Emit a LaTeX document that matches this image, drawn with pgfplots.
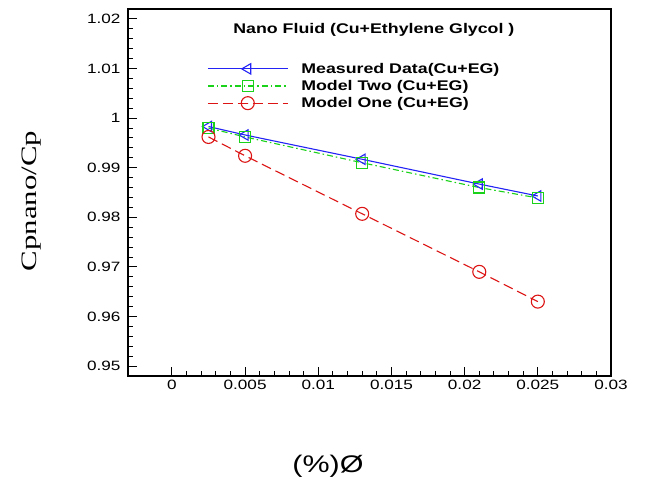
\documentclass[border=0pt]{standalone}
\usepackage{pgfplots}
\pgfplotsset{compat=1.18}
\usepackage{fontspec}
\setmainfont{Liberation Sans}
\newfontfamily\stretchsans[FakeStretch=1.27]{Liberation Sans}
\newfontfamily\ylabfont{Liberation Serif}
\definecolor{cblue}{RGB}{35,35,245}
\definecolor{cgreen}{RGB}{25,210,25}
\definecolor{cred}{RGB}{220,20,20}
\begin{document}
\begin{tikzpicture}
\path[use as bounding box] (0pt,0pt) rectangle (647pt,485pt);
\begin{axis}[
  at={(128pt,109pt)}, anchor=south west,
  scale only axis, width=483pt, height=367pt,
  xmin=-0.003, xmax=0.03, ymin=0.948, ymax=1.022,
  xtick={0,0.005,0.01,0.015,0.02,0.025,0.03},
  xticklabels={0,0.005,0.01,0.015,0.02,0.025,0.03},
  ytick={0.95,0.96,0.97,0.98,0.99,1,1.01,1.02},
  yticklabels={0.95,0.96,0.97,0.98,0.99,1,1.01,1.02},
  scaled ticks=false,
  minor x tick num=4, minor y tick num=4,
  tick pos=left, tick align=inside,
  major tick length=9pt, minor tick length=5pt,
  every tick/.style={black, line width=0.9pt},
  axis line style={line width=1.3pt},
  ticklabel style={font=\stretchsans\fontsize{13.5}{16}\selectfont},
  xticklabel style={yshift=-1pt},
  yticklabel style={xshift=-4pt},
  legend style={draw=none, fill=none, at={(rel axis cs:0.1636,0.856)}, anchor=north west,
    inner sep=0pt, row sep=3.5pt, column sep=12pt,
    font=\stretchsans\bfseries\fontsize{14}{16}\selectfont,
    nodes={inner sep=1pt}},
  legend cell align=left,
  legend image code/.code={\draw[mark repeat=2,mark phase=2,#1] plot coordinates {(0pt,0pt) (40pt,0pt) (80pt,0pt)};},
]
\addplot[color=cblue, draw=cblue, line width=1.1pt, mark=triangle, mark size=6pt, mark options={solid, rotate=90, fill=none, draw=cblue}]
  coordinates {(0.0025,0.9983) (0.005,0.9966) (0.013,0.9917) (0.021,0.9867) (0.025,0.9843)};
\addlegendentry{Measured Data(Cu+EG)}
\addplot[color=cgreen, draw=cgreen, line width=1.1pt, dash pattern=on 6pt off 3pt on 1.5pt off 3pt, mark=square, mark size=5.5pt, mark options={solid, fill=none, draw=cgreen}]
  coordinates {(0.0025,0.9980) (0.005,0.9962) (0.013,0.9910) (0.021,0.9860) (0.025,0.9839)};
\addlegendentry{Model Two (Cu+EG)}
\addplot[color=cred, draw=cred, line width=1.1pt, dash pattern=on 10pt off 5pt, mark=o, mark size=6.5pt, mark options={solid, fill=none, draw=cred}]
  coordinates {(0.0025,0.9962) (0.005,0.9924) (0.013,0.9807) (0.021,0.9690) (0.025,0.9630)};
\addlegendentry{Model One (Cu+EG)}
\node[font=\stretchsans\bfseries\fontsize{14}{16}\selectfont] at (rel axis cs:0.509,0.943) {Nano Fluid (Cu+Ethylene Glycol )};
\end{axis}
\node[rotate=90, inner sep=0pt] at (31.7pt,284pt) {\scalebox{1.4}[1]{\ylabfont\fontsize{22}{26}\selectfont Cpnano/Cp}};
\node[font=\stretchsans\fontsize{24}{28}\selectfont] at (328pt,19pt) {(\%)Ø};
\end{tikzpicture}
\end{document}
